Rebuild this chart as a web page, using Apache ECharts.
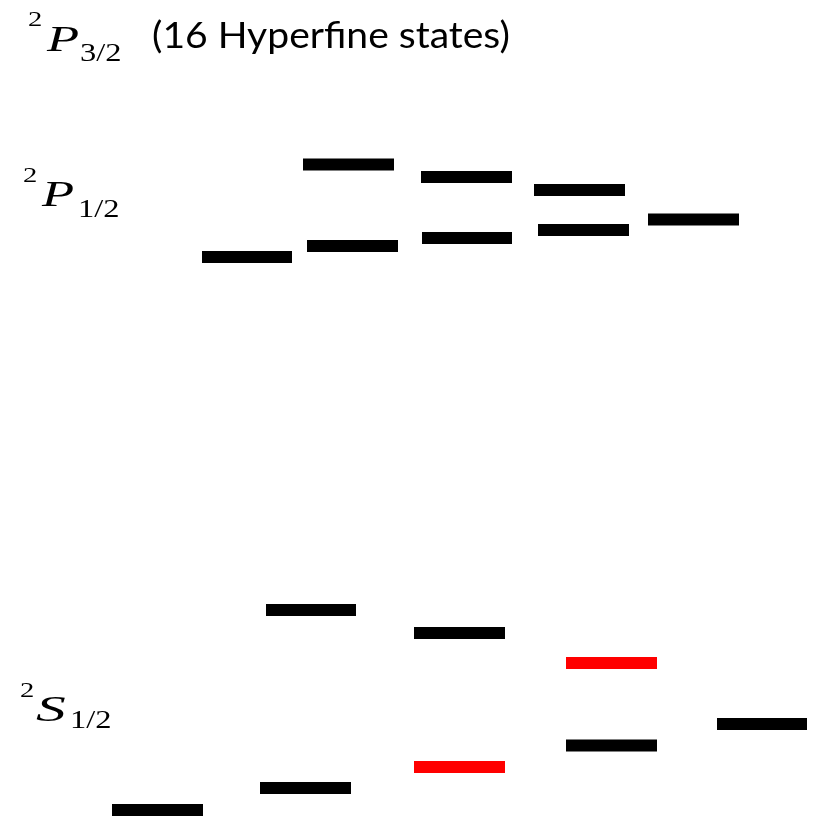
<!DOCTYPE html>
<html><head><meta charset="utf-8">
<script src="https://cdn.jsdelivr.net/npm/echarts@6/dist/echarts.min.js"></script>
<style>html,body{margin:0;padding:0;background:#fff}#c{width:819px;height:816px}</style>
</head><body><div id="c"></div>
<script>
// Hyperfine levels: horizontal extent (start, end) and energy (arbitrary units, up = higher)
const pStart  = [202, 303, 307, 421, 422, 534, 538, 648];
const pEnd    = [292, 394, 398, 512, 512, 625, 629, 739];
const pEnergy = [559, 651.5, 570, 639, 578, 626, 586, 596.5];

const sStart  = [112, 266, 260, 414, 566, 717];
const sEnd    = [203, 356, 351, 505, 657, 807];
const sEnergy = [6, 206, 28, 183, 70.5, 92];

// highlighted (red) ground-state levels
const hStart  = [414, 566];
const hEnd    = [505, 657];
const hEnergy = [49, 153];

// term labels
const termSup = ['2', '2', '2'];
const termSym = ['P', 'P', 'S'];
const termSub = ['3/2', '1/2', '1/2'];
const headerNote = '(16 Hyperfine states)';

const BAR_H = 12;
function zip(a, b, c) { return a.map((v, i) => [v, b[i], c[i]]); }
function renderItem(params, api) {
  const a = api.coord([api.value(0), api.value(2)]);
  const b = api.coord([api.value(1), api.value(2)]);
  return {
    type: 'rect',
    shape: { x: a[0], y: a[1] - BAR_H / 2, width: b[0] - a[0], height: BAR_H },
    style: { fill: api.visual('color') }
  };
}

// label layout: [supX, supY, symX, symY, subX, subY, symScale]
const labelPos = [
  [28, 20.5, 47, 41.5, 80, 54, 1.5],
  [23, 176.5, 42, 196.5, 78, 210, 1.5],
  [20, 691.5, 36, 711.5, 70, 721, 1.7]
];
const graphics = [];
function txt(x, y, text, font, scaleX) {
  return { type: 'text', x: x, y: y, scaleX: scaleX, silent: true,
    style: { text: text, font: font, fill: '#000', textAlign: 'left', textVerticalAlign: 'middle', align: 'left', verticalAlign: 'middle' } };
}
labelPos.forEach((p, i) => {
  graphics.push(txt(p[0], p[1], termSup[i], '22px "Liberation Serif"', 1.3));
  graphics.push(txt(p[2], p[3], termSym[i], 'italic 35px "Liberation Serif"', p[6]));
  graphics.push(txt(p[4], p[5], termSub[i], '26px "Liberation Serif"', 1.25));
});
graphics.push(txt(152, 36, headerNote, '36px Lato', 1.085));

const chart = echarts.init(document.getElementById('c'), null, { renderer: 'canvas' });
chart.setOption({
  animation: false,
  backgroundColor: '#fff',
  grid: { left: 0, right: 0, top: 0, bottom: 0 },
  xAxis: { type: 'value', min: 0, max: 819, show: false },
  yAxis: { type: 'value', min: 0, max: 816, show: false },
  graphic: graphics,
  series: [
    { name: 'P levels', type: 'custom', renderItem: renderItem, itemStyle: { color: '#000' },
      encode: { x: [0, 1], y: 2 }, data: zip(pStart, pEnd, pEnergy) },
    { name: 'S levels', type: 'custom', renderItem: renderItem, itemStyle: { color: '#000' },
      encode: { x: [0, 1], y: 2 }, data: zip(sStart, sEnd, sEnergy) },
    { name: 'Highlighted', type: 'custom', renderItem: renderItem, itemStyle: { color: '#ff0000' },
      encode: { x: [0, 1], y: 2 }, data: zip(hStart, hEnd, hEnergy) }
  ]
});
</script></body></html>
